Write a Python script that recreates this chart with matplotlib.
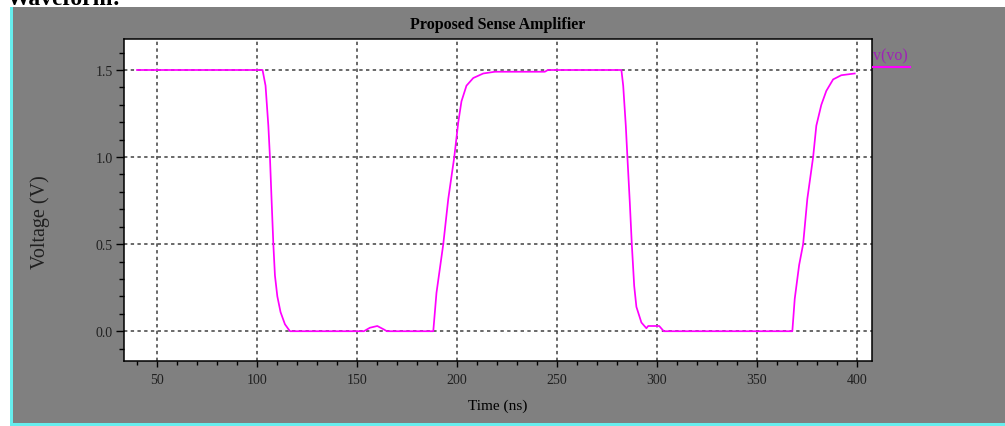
import matplotlib
matplotlib.use('Agg')
import matplotlib.pyplot as plt
from matplotlib.patches import Rectangle
from matplotlib.lines import Line2D
from matplotlib.ticker import MultipleLocator

# waveform v(vo) (time in ns, voltage in V)
t_ns = [40, 102.8, 104.3, 105.7, 106.5, 107.3, 108.2, 109.0, 110.2, 111.8, 114.0, 116.5,
        153.5, 156.5, 160.2, 163.5, 165.0,
        188.2, 189.8, 193.2, 195.7, 198.7, 200.7, 202.3, 204.8, 208.2, 213.2, 219.0, 244.0, 245.5,
        282.3, 283.2, 284.5, 285.3, 286.5, 287.5, 288.7, 289.8, 292.3, 294.8, 295.7, 301.2, 303.5,
        367.8, 369.0, 371.2, 373.2, 375.3, 378.2, 379.8, 382.3, 384.8, 388.2, 392.3, 399.0]
v_vo = [1.5, 1.5, 1.41, 1.18, 1.0, 0.76, 0.5, 0.32, 0.2, 0.11, 0.04, 0.0,
        0.0, 0.02, 0.03, 0.01, 0.0,
        0.0, 0.22, 0.5, 0.76, 1.0, 1.2, 1.32, 1.41, 1.454, 1.48, 1.49, 1.49, 1.5,
        1.5, 1.41, 1.18, 1.0, 0.74, 0.5, 0.26, 0.14, 0.05, 0.017, 0.03, 0.03, 0.0,
        0.0, 0.186, 0.38, 0.5, 0.76, 1.0, 1.18, 1.30, 1.38, 1.446, 1.47, 1.48]

x_major = [50, 100, 150, 200, 250, 300, 350, 400]
y_major = [0.0, 0.5, 1.0, 1.5]
y_labels = ['0.0', '0.5', '1.0', '1.5']

W, H = 1005, 427
fig = plt.figure(figsize=(W / 100, H / 100), dpi=100)
fig.patch.set_facecolor('white')

# grey panel with cyan border on left and bottom
fig.add_artist(Rectangle((12 / W, 3 / H), 1, (H - 11) / H, transform=fig.transFigure,
                         facecolor='#808080', edgecolor='none', zorder=0))
fig.add_artist(Rectangle((10 / W, 0), 3 / W, (H - 8) / H, transform=fig.transFigure,
                         facecolor='#66eeee', edgecolor='none', zorder=0))
fig.add_artist(Rectangle((10 / W, 0), 1, 3.5 / H, transform=fig.transFigure,
                         facecolor='#66eeee', edgecolor='none', zorder=0))
fig.text(7 / W, 1 - 5 / H, 'Waveform:', fontsize=17, weight='bold',
         family='Liberation Serif', va='baseline', ha='left')

ax = fig.add_axes([124 / W, 65 / H, 747.7 / W, 322 / H])
ax.set_facecolor('white')
ax.plot(t_ns, v_vo, color='#ff00ff', lw=1.25, zorder=3)

ax.set_xlim(33.5, 407.5)
ax.set_ylim(-0.171, 1.678)
ax.set_xticks(x_major)
ax.set_yticks(y_major)
ax.set_yticklabels(y_labels)
ax.xaxis.set_minor_locator(MultipleLocator(10))
ax.yaxis.set_minor_locator(MultipleLocator(0.1))
ax.grid(True, which='major', color='#404040', linestyle=(0, (2.2, 2.2)), lw=1.1)

for s in ax.spines.values():
    s.set_color('black')
    s.set_linewidth(1.1)
ax.tick_params(axis='x', which='major', length=4, width=1, direction='out', pad=5)
ax.tick_params(axis='x', which='minor', length=3, width=1, direction='out')
ax.tick_params(axis='y', which='major', length=6, width=1, direction='out', pad=2)
ax.tick_params(axis='y', which='minor', length=3.5, width=1, direction='out')
for lab in ax.get_xticklabels() + ax.get_yticklabels():
    lab.set_family('Liberation Serif')
    lab.set_fontsize(10)
    lab.set_color('#202020')

ax.set_title('Proposed Sense Amplifier', fontsize=11.5, weight='bold',
             family='Liberation Serif', pad=8)
ax.set_xlabel('Time (ns)', fontsize=11, family='Liberation Serif', labelpad=9)
fig.text(40 / W, 1 - 222 / H, 'Voltage (V)', rotation=90, fontsize=14.5,
         family='Liberation Serif', va='center', ha='center', color='#202020')

# legend entry at right
fig.text(873 / W, 1 - 60 / H, 'v(vo)', fontsize=11.5, family='Liberation Serif',
         color='#a020b8', va='baseline', ha='left')
fig.add_artist(Line2D([873 / W, 910 / W], [1 - 67.5 / H, 1 - 67.5 / H],
                      transform=fig.transFigure, color='#ff00ff', lw=1.5))

fig.savefig('out.png', dpi=100)
